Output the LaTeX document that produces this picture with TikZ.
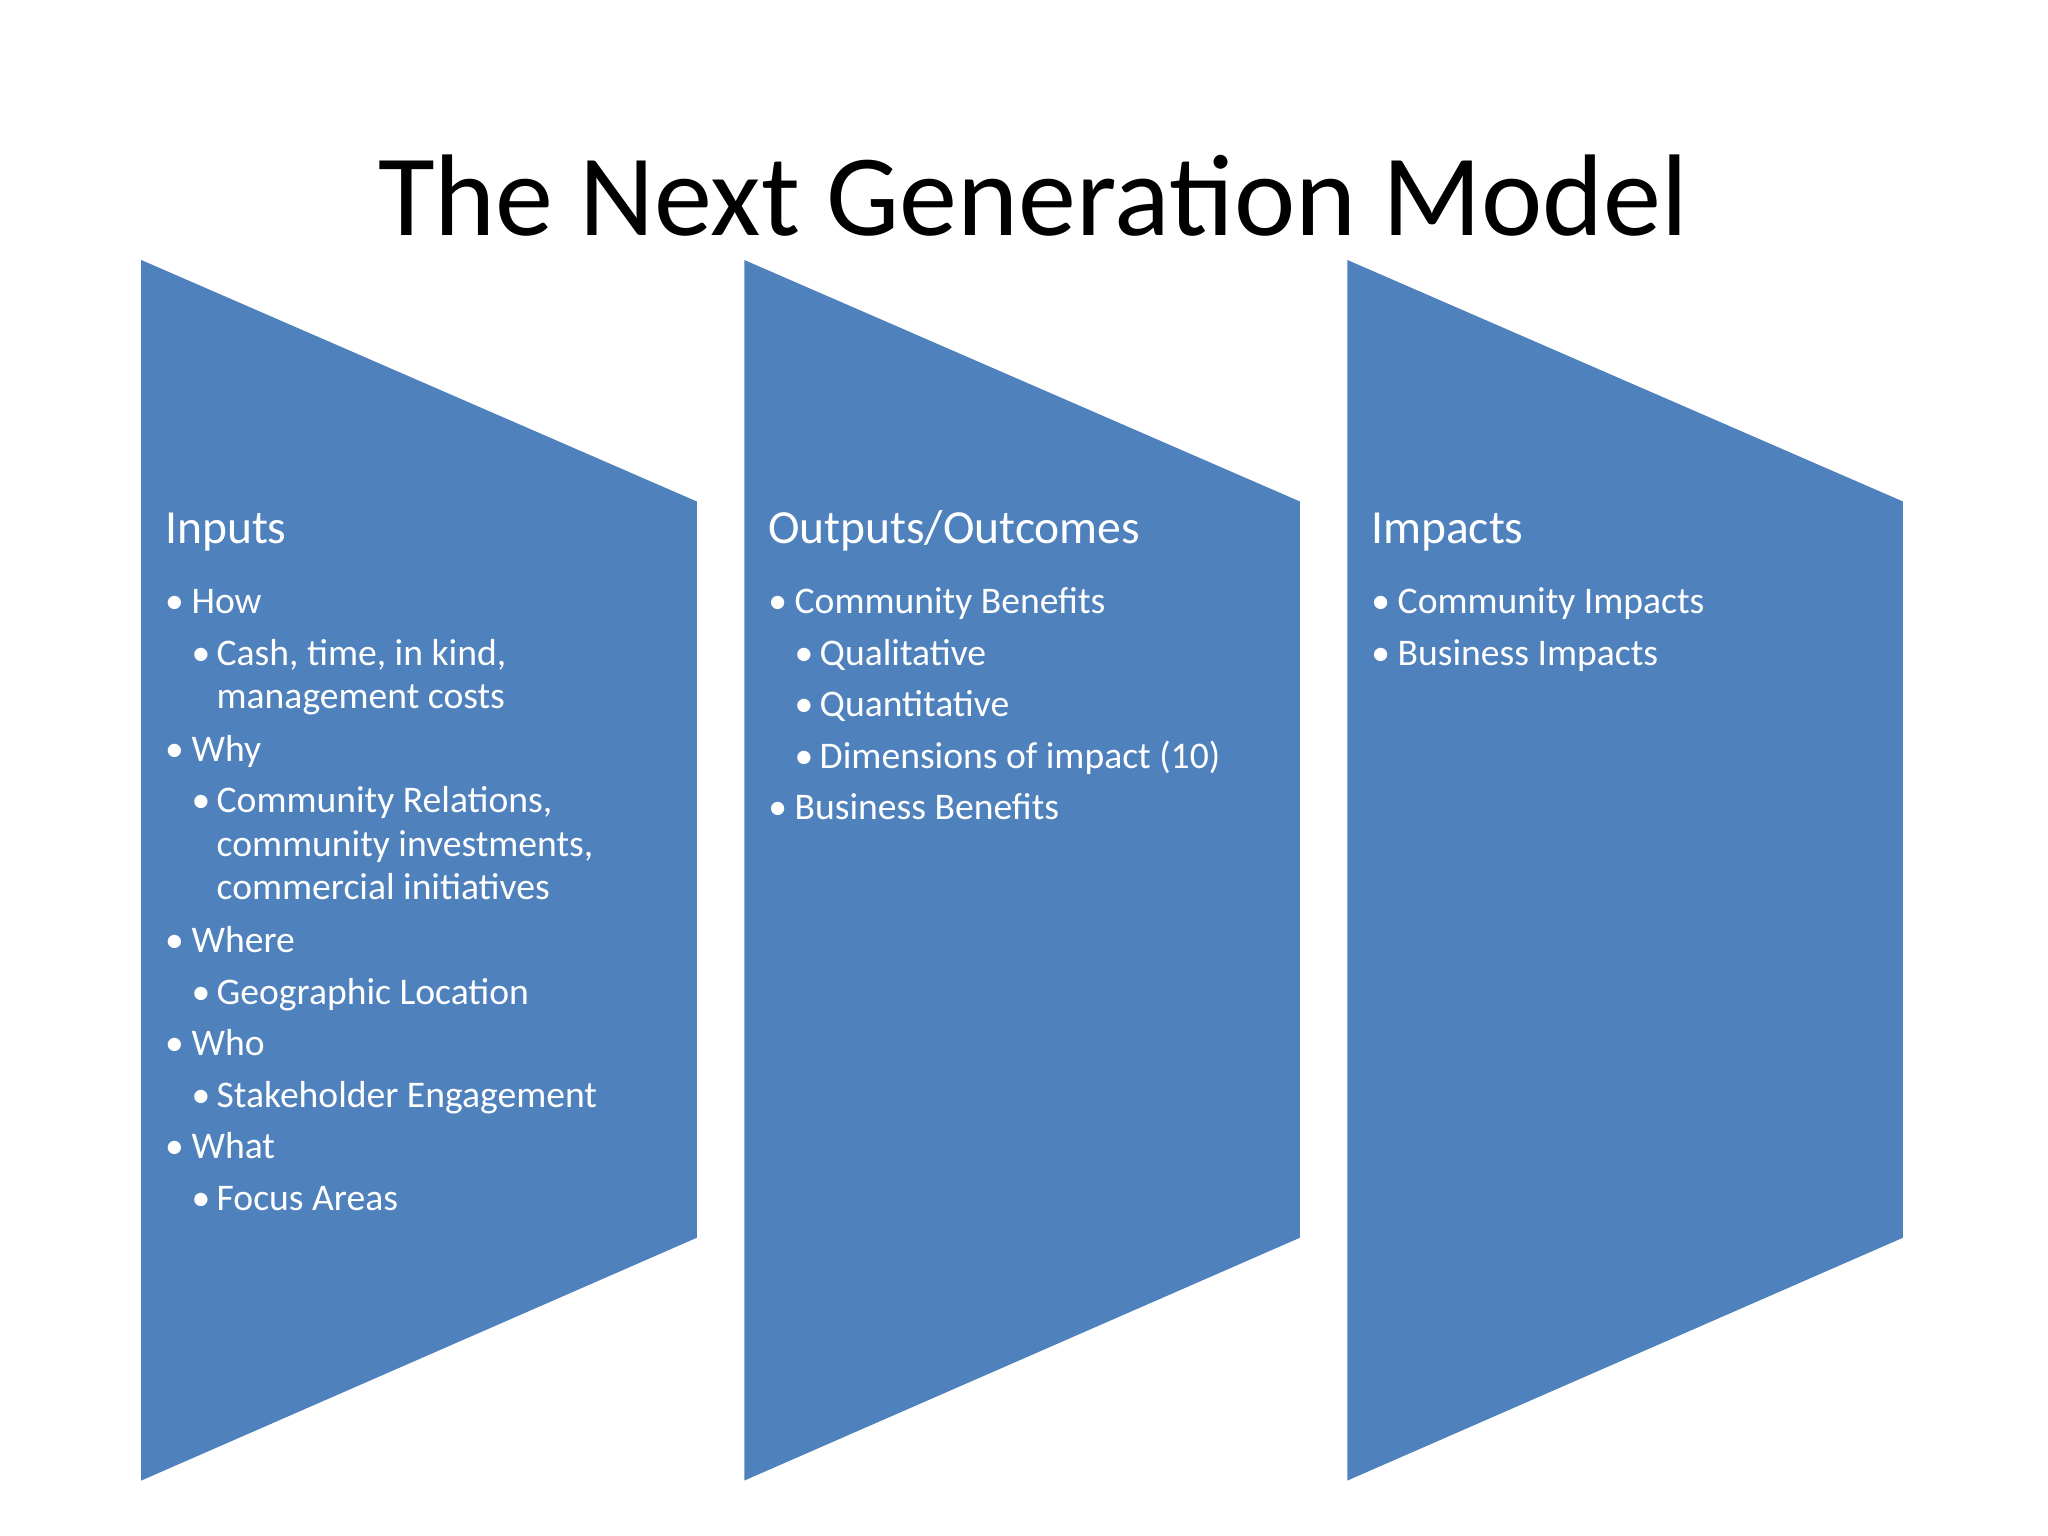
\documentclass[tikz,border=0pt]{standalone}
\usepackage{fontspec}
\setmainfont{Carlito}
\definecolor{panel}{HTML}{4F81BD}
\begin{document}
\begin{tikzpicture}[x=1pt,y=-1pt,
  hd/.style={anchor=base west,inner sep=0,text=white,font=\fontsize{36}{40}\selectfont},
  li/.style={anchor=base west,inner sep=0,text=white,font=\fontsize{28.5}{32}\selectfont},
  bul/.style={anchor=base west,inner sep=0,text=white,font=\fontsize{28.5}{32}\selectfont}]
\useasboundingbox (0,0) rectangle (1552,1164);
\node[inner sep=0,font=\fontsize{88}{96}\selectfont] (title) at (783,148) {The Next Generation Model};
\foreach \o/\n in {0/a,457/b,914/c}{
  \fill[panel] (107+\o,197) -- (528+\o,380) -- (528+\o,938) -- (107+\o,1122) -- cycle;
}
% helpers
\newcommand{\Lone}[4]{\node[bul] (#1b) at (#2+125,#3+10) {•}; \node[li] (#1) at (#2+145,#3+10) {#4};}
\newcommand{\Ltwo}[4]{\node[bul] (#1b) at (#2+145,#3+10) {•}; \node[li] (#1) at (#2+164,#3+10) {#4};}
\newcommand{\Lcont}[4]{\node[li] (#1) at (#2+164,#3+10) {#4};}
% Inputs
\node[hd] (h1) at (125,412) {Inputs};
\Lone{a1}{0}{455}{How}
\Ltwo{a2}{0}{494}{Cash, time, in kind,}
\Lcont{a3}{0}{527}{management costs}
\Lone{a4}{0}{567}{Why}
\Ltwo{a5}{0}{606}{Community Relations,}
\Lcont{a6}{0}{639}{community investments,}
\Lcont{a7}{0}{672}{commercial initiatives}
\Lone{a8}{0}{712}{Where}
\Ltwo{a9}{0}{751}{Geographic Location}
\Lone{a10}{0}{790}{Who}
\Ltwo{a11}{0}{829}{Stakeholder Engagement}
\Lone{a12}{0}{868}{What}
\Ltwo{a13}{0}{907}{Focus Areas}
% Outputs
\node[hd] (h2) at (582,412) {Outputs/Outcomes};
\Lone{b1}{457}{455}{Community Benefits}
\Ltwo{b2}{457}{494}{Qualitative}
\Ltwo{b3}{457}{533}{Quantitative}
\Ltwo{b4}{457}{572}{Dimensions of impact (10)}
\Lone{b5}{457}{611}{Business Benefits}
% Impacts
\node[hd] (h3) at (1039,412) {Impacts};
\Lone{c1}{914}{455}{Community Impacts}
\Lone{c2}{914}{494}{Business Impacts}
\end{tikzpicture}
\end{document}
